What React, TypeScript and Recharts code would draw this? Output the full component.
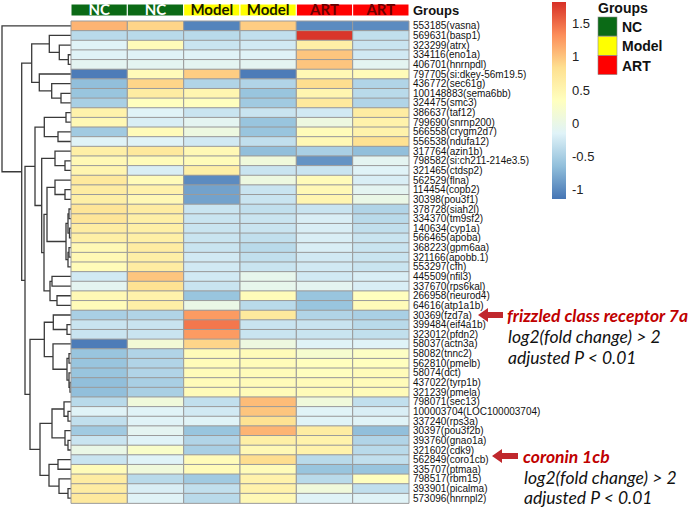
import React from 'react';
import { Bar, BarChart, Cell, LabelList, Scatter, ScatterChart, XAxis, YAxis } from 'recharts';

// row labels, top to bottom (clustered order)
const genes = [
  '553185(vasna)', '569631(basp1)', '323299(atrx)', '334116(eno1a)', '406701(hnrnpdl)',
  '797705(si:dkey-56m19.5)', '436772(sec61g)', '100148883(sema6bb)', '324475(smc3)', '386637(taf12)',
  '799690(snrnp200)', '566558(crygm2d7)', '556538(ndufa12)', '317764(azin1b)', '798582(si:ch211-214e3.5)',
  '321465(ctdsp2)', '562529(flna)', '114454(copb2)', '30398(pou3f1)', '378728(siah2l)',
  '334370(tm9sf2)', '140634(cyp1a)', '566465(apoba)', '368223(gpm6aa)', '321166(apobb.1)',
  '553297(cfh)', '445509(nfil3)', '337670(rps6kal)', '266958(neurod4)', '64616(atp1a1b)',
  '30369(fzd7a)', '399484(eif4a1b)', '323012(pfdn2)', '58037(actn3a)', '58082(tnnc2)',
  '562810(pmelb)', '58074(dct)', '437022(tyrp1b)', '321239(pmela)', '798071(sec13)',
  '100003704(LOC100003704)', '337240(rps3a)', '30397(pou3f2b)', '393760(gnao1a)', '321602(cdk9)',
  '562849(coro1cb)', '335707(ptmaa)', '798517(rbm15)', '393901(picalma)', '573096(hnrnpl2)',
];

const sampleGroups = ['NC', 'NC', 'Model', 'Model', 'ART', 'ART'];
const groupNames = ['NC', 'Model', 'ART'];

// scaled expression per sample column
const nc1 = [1.1, -0.4, -0.15, -0.15, -0.1, -1.1, -0.65, -0.6, -0.5, 0.55, 0.45, -0.55, -0.15, 0.6, 0.45, 0.5, 0.7, 0.65, 0.6, 0.75, 0.75, 0.65, 0.6, 0.45, 0.45, 0.4, -0.25, -0.1, 0.45, 0.4, -0.5, -0.3, -0.3, -1.1, -0.6, -0.6, -0.6, -0.65, -0.65, -0.4, -0.15, -0.35, -0.55, -0.3, 0.0, -0.3, 0.4, 0.65, 0.65, 0.7];
const nc2 = [0.9, -0.4, 0.4, -0.15, -0.1, 0.4, 0.9, 0.65, 0.35, -0.15, -0.2, 0.4, -0.15, 0.7, 0.4, -0.2, 0.4, 0.55, 0.45, 0.65, 0.6, 0.6, 0.6, 0.65, 0.6, 0.65, 1.0, 0.8, 0.55, 0.6, -0.45, -0.3, -0.3, 0.15, -0.45, -0.45, -0.45, -0.5, -0.5, 0.1, -0.15, -0.15, -0.1, -0.15, 0.25, -0.15, 0.1, -0.4, -0.2, -0.15];
const model1 = [-1.05, -0.4, -0.3, -0.15, -0.1, 0.95, -0.45, 0.5, 0.35, -0.3, -0.1, 0.05, -0.25, 0.45, 0.4, 0.6, -1.0, -0.85, -0.85, -0.3, -0.3, -0.3, -0.3, -0.3, -0.25, -0.25, -0.25, -0.3, -0.6, 0.0, 1.25, 1.45, 1.25, 0.9, 0.4, 0.4, 0.4, 0.4, 0.4, -0.35, -0.25, -0.15, -0.6, -0.45, -0.5, 0.4, 0.4, -0.55, -0.35, -0.4];
const model2 = [0.95, -0.35, -0.25, -0.15, -0.1, -1.1, -0.45, -0.6, -0.55, -0.3, -0.6, -0.6, -0.35, -0.65, 0.1, -0.3, 0.05, -0.3, -0.3, -0.35, -0.3, -0.3, -0.35, -0.4, -0.35, -0.3, -0.05, -0.05, 0.4, -0.4, 0.7, -0.3, -0.3, 0.05, 0.4, 0.4, 0.4, 0.4, 0.4, 1.05, 1.0, 0.8, 1.1, 0.6, 0.45, 0.85, 0.4, 0.55, 0.55, 0.45];
const art1 = [-1.0, 1.8, 0.6, 1.0, 1.0, 0.45, 0.85, 0.5, 0.7, -0.25, 0.05, 0.4, 0.45, -0.5, -0.95, -0.3, 0.4, 0.45, 0.5, -0.3, -0.2, -0.2, -0.2, -0.2, -0.25, -0.25, -0.25, -0.1, -0.6, -0.6, -0.45, -0.3, -0.3, -0.15, 0.2, 0.35, 0.35, 0.4, 0.4, 0.1, -0.15, -0.15, 0.65, 0.55, 0.55, -0.4, -0.6, -0.4, 0.1, -0.15];
const art2 = [-1.0, -0.35, -0.3, -0.25, -0.1, 0.4, -0.45, -0.4, -0.45, 0.65, 0.55, 0.55, 0.8, -0.65, -0.1, -0.15, -0.2, -0.1, 0.0, -0.45, -0.4, -0.35, -0.3, -0.3, -0.3, -0.3, -0.2, -0.2, 0.35, 0.4, -0.5, -0.4, -0.35, -0.15, 0.3, 0.35, 0.4, 0.4, 0.4, -0.35, -0.2, -0.15, -0.65, -0.45, -0.4, -0.35, -0.6, 0.35, -0.35, -0.15];
const columns = [nc1, nc2, model1, model2, art1, art2];

// row dendrogram, hclust style: negative = leaf row (1-based), positive = earlier merge (1-based)
const merges: [number, number, number][] = [
  [-4, -5, 2.7], [-3, 1, 11.7], [-2, 2, 21.7], [-8, -9, 10], [-7, 4, 19.3],
  [-6, 5, 31.7], [3, 6, 39.3], [-10, -11, 5], [-12, -13, 13], [8, 9, 26.7],
  [-15, -16, 6], [-14, 11, 16], [-18, -19, 6], [-17, 13, 16], [-20, -21, 2],
  [-22, -23, 1.5], [15, 16, 3], [-24, -25, 2], [18, -26, 3], [17, 19, 5],
  [14, 20, 24], [-27, -28, 19], [-29, -30, 14], [22, 23, 21], [21, 24, 27],
  [12, 25, 29.3], [10, 26, 36], [-32, -33, 4], [-31, 28, 17.7], [-35, -36, 2],
  [-38, -39, 1], [-37, 31, 2], [30, 32, 4], [-34, 33, 18], [29, 34, 26.7],
  [-41, -42, 3], [-40, 36, 7], [-44, -45, 3], [-43, 38, 6], [37, 39, 19],
  [-46, -47, 13], [-49, -50, 3], [-48, 42, 12], [41, 43, 22], [40, 44, 31],
  [35, 45, 41], [27, 46, 46], [7, 47, 49.3], [-1, 48, 69],
];

const legendTicks = [-1, -0.5, 0, 0.5, 1, 1.5];
const valueRange: [number, number] = [-1.15, 1.83];
const palette = ['#4575B4', '#91BFDB', '#E0F3F8', '#FFFFBF', '#FEE090', '#FC8D59', '#D73027'];
const groupColors: Record<string, string> = { NC: '#0b6a16', Model: '#ffff00', ART: '#ff0000' };
const groupText: Record<string, string> = { NC: '#ffffff', Model: '#1a1a00', ART: '#6a0000' };

function hexToRgb(h: string) {
  return [1, 3, 5].map((i) => parseInt(h.slice(i, i + 2), 16));
}

function heatColor(v: number) {
  const t = Math.min(1, Math.max(0, (v - valueRange[0]) / (valueRange[1] - valueRange[0])));
  const pos = t * (palette.length - 1);
  const i = Math.min(palette.length - 2, Math.floor(pos));
  const f = pos - i;
  const a = hexToRgb(palette[i]);
  const b = hexToRgb(palette[i + 1]);
  const c = a.map((x, k) => Math.round(x + (b[k] - x) * f));
  return `rgb(${c[0]},${c[1]},${c[2]})`;
}

const rows = genes.map((gene, r) => {
  const row: Record<string, any> = { gene };
  columns.forEach((col, c) => {
    row[`s${c}`] = 1;
    row[`v${c}`] = col[r];
  });
  return row;
});

const headerRow: Record<string, any> = { name: 'Groups' };
sampleGroups.forEach((g, c) => {
  headerRow[`s${c}`] = 1;
  headerRow[`l${c}`] = g;
});

// dendrogram links: each merge drawn as a bracket from child heights up to the merge height
const nodeY: number[] = [];
const nodeH: number[] = [];
const links = merges.map(([a, b, h], i) => {
  const ya = a < 0 ? -a - 0.5 : nodeY[a - 1];
  const ha = a < 0 ? 0 : nodeH[a - 1];
  const yb = b < 0 ? -b - 0.5 : nodeY[b - 1];
  const hb = b < 0 ? 0 : nodeH[b - 1];
  nodeY[i] = (ya + yb) / 2;
  nodeH[i] = h;
  return [
    { x: ha, y: ya },
    { x: h, y: ya },
    { x: h, y: yb },
    { x: hb, y: yb },
  ];
});

const NoDot = () => <g />;

const W = 696;
const H = 509;
const labelFont = 'Liberation Sans, Arial, sans-serif';
const noteFont = 'Lato, Carlito, sans-serif';

function Arrow({ tipX, tailX, y }: { tipX: number; tailX: number; y: number }) {
  const head = 10;
  const pts = [
    [tipX, y],
    [tipX + head, y - 7],
    [tipX + head, y - 3],
    [tailX, y - 3],
    [tailX, y + 3],
    [tipX + head, y + 3],
    [tipX + head, y + 7],
  ]
    .map((p) => p.join(','))
    .join(' ');
  return <polygon points={pts} fill="#c0282d" />;
}

export default function App() {
  return (
    <div
      style={{
        position: 'absolute',
        left: 0,
        top: 0,
        width: W,
        height: H,
        background: '#fff',
        overflow: 'hidden',
        fontFamily: labelFont,
      }}
    >
      <svg width={0} height={0} style={{ position: 'absolute' }}>
        <defs>
          <linearGradient id="heatGrad" x1="0" y1="1" x2="0" y2="0">
            {palette.map((c, i) => (
              <stop key={c} offset={i / (palette.length - 1)} stopColor={c} />
            ))}
          </linearGradient>
        </defs>
      </svg>

      {/* dendrogram */}
      <div style={{ position: 'absolute', left: 0, top: 0 }}>
        <ScatterChart width={80} height={H} margin={{ top: 21, bottom: 6, left: 2, right: 9 }}>
          <XAxis type="number" dataKey="x" domain={[0, 69]} reversed hide />
          <YAxis type="number" dataKey="y" domain={[0, genes.length]} reversed hide />
          {links.map((pts, i) => (
            <Scatter
              key={i}
              data={pts}
              line={{ stroke: '#3a3a3a', strokeWidth: 1.3 }}
              lineType="joint"
              shape={NoDot}
              isAnimationActive={false}
            />
          ))}
        </ScatterChart>
      </div>

      {/* group header bar */}
      <div style={{ position: 'absolute', left: 0, top: 0 }}>
        <BarChart
          width={W}
          height={20}
          data={[headerRow]}
          layout="vertical"
          barCategoryGap={0}
          margin={{ top: 4, bottom: 4, left: 71, right: 167 }}
        >
          <XAxis type="number" domain={[0, 6]} hide />
          <YAxis
            type="category"
            dataKey="name"
            orientation="right"
            width={120}
            axisLine={false}
            tickLine={false}
            tickSize={2}
            tickMargin={2}
            tick={{ fontSize: 13, fontWeight: 'bold', fill: '#111', fontFamily: labelFont, textAnchor: 'start' }}
          />
          {sampleGroups.map((g, c) => (
            <Bar key={c} dataKey={`s${c}`} stackId="h" fill={groupColors[g]} stroke="#ffffff" strokeWidth={1} isAnimationActive={false}>
              <LabelList
                dataKey={`l${c}`}
                position="center"
                fill={groupText[g]}
                style={{ fontSize: 15, fontWeight: 'bold', fontFamily: noteFont }}
              />
            </Bar>
          ))}
        </BarChart>
      </div>

      {/* heatmap */}
      <div style={{ position: 'absolute', left: 0, top: 0 }}>
        <BarChart
          width={W}
          height={H}
          data={rows}
          layout="vertical"
          barCategoryGap={0}
          margin={{ top: 21, bottom: 6, left: 71, right: 167 }}
        >
          <XAxis type="number" domain={[0, 6]} hide />
          <YAxis
            type="category"
            dataKey="gene"
            orientation="right"
            width={120}
            interval={0}
            axisLine={false}
            tickLine={false}
            tickSize={2}
            tickMargin={2}
            tick={{ fontSize: 10, fill: '#111', fontFamily: labelFont, textAnchor: 'start' }}
          />
          {columns.map((col, c) => (
            <Bar key={c} dataKey={`s${c}`} stackId="m" stroke="#9b9b9b" strokeWidth={1} isAnimationActive={false}>
              {col.map((v, r) => (
                <Cell key={r} fill={heatColor(v)} />
              ))}
            </Bar>
          ))}
        </BarChart>
      </div>

      {/* colour key */}
      <div style={{ position: 'absolute', left: 500, top: 0 }}>
        <BarChart
          width={120}
          height={205}
          data={[{ name: 'key', range: valueRange }]}
          barCategoryGap={0}
          margin={{ top: 2, bottom: 6, left: 52, right: 14 }}
        >
          <XAxis dataKey="name" hide />
          <YAxis
            type="number"
            domain={valueRange}
            ticks={legendTicks}
            orientation="right"
            width={40}
            axisLine={false}
            tickLine={false}
            tickSize={0}
            tickMargin={6}
            tick={{ fontSize: 13, fill: '#222', fontFamily: labelFont }}
          />
          <Bar dataKey="range" fill="url(#heatGrad)" isAnimationActive={false} />
        </BarChart>
      </div>

      {/* group legend and annotations */}
      <svg width={W} height={H} style={{ position: 'absolute', left: 0, top: 0, pointerEvents: 'none' }}>
        <text x={598} y={8} dominantBaseline="central" fontSize={14} fontWeight="bold" fontFamily={labelFont} fill="#111">
          Groups
        </text>
        {groupNames.map((g, i) => (
          <g key={g}>
            <rect x={598} y={17 + i * 19.3} width={19} height={19} fill={groupColors[g]} stroke="#8a8a8a" strokeWidth={0.6} />
            <text x={622} y={27 + i * 19.3} dominantBaseline="central" fontSize={14} fontWeight="bold" fontFamily={labelFont} fill="#111">
              {g}
            </text>
          </g>
        ))}

        <Arrow tipX={478} tailX={503} y={315} />
        <text x={507} y={315} dominantBaseline="central" fontSize={17.5} fontWeight="bold" fontStyle="italic" fontFamily={noteFont} fill="#c00000">
          frizzled class receptor 7a
        </text>
        <text x={508} y={336} dominantBaseline="central" fontSize={17.5} fontStyle="italic" fontFamily={noteFont} fill="#111">
          {'log2(fold change) > 2'}
        </text>
        <text x={508} y={357} dominantBaseline="central" fontSize={17.5} fontStyle="italic" fontFamily={noteFont} fill="#111">
          {'adjusted P < 0.01'}
        </text>

        <Arrow tipX={492} tailX={518} y={456} />
        <text x={523} y={456} dominantBaseline="central" fontSize={17.5} fontWeight="bold" fontStyle="italic" fontFamily={noteFont} fill="#c00000">
          coronin 1cb
        </text>
        <text x={524} y={477} dominantBaseline="central" fontSize={17.5} fontStyle="italic" fontFamily={noteFont} fill="#111">
          {'log2(fold change) > 2'}
        </text>
        <text x={524} y={497} dominantBaseline="central" fontSize={17.5} fontStyle="italic" fontFamily={noteFont} fill="#111">
          {'adjusted P < 0.01'}
        </text>
      </svg>
    </div>
  );
}
